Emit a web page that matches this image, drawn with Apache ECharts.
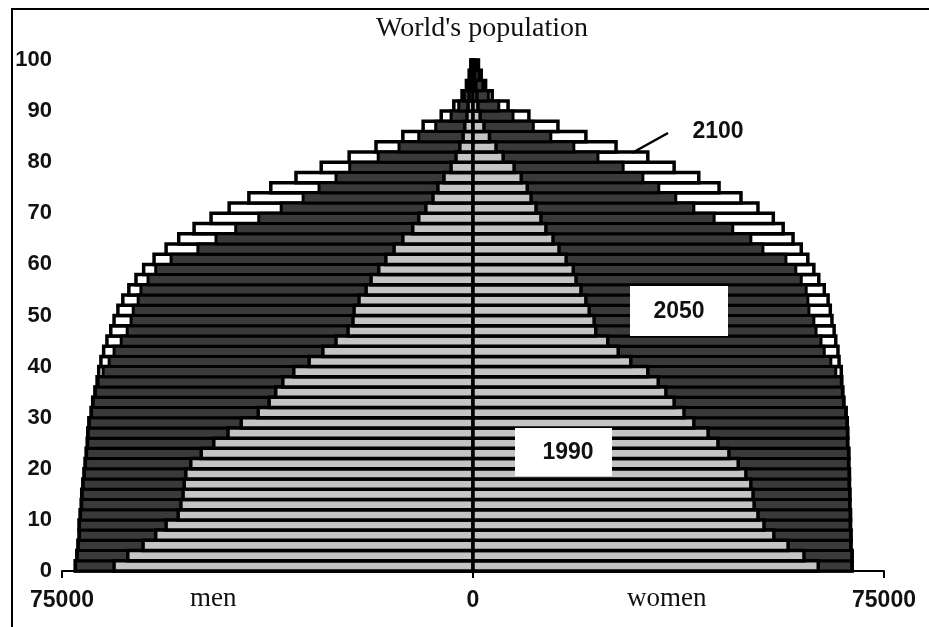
<!DOCTYPE html>
<html>
<head>
<meta charset="utf-8">
<script src="https://cdn.jsdelivr.net/npm/echarts@6/dist/echarts.min.js"></script>
<style>
  html, body { margin: 0; padding: 0; background: #fff; }
  #chart { width: 929px; height: 627px; }
</style>
</head>
<body>
<div id="chart"></div>
<script>
// age groups, 2 years each (start age of group)
var ages = [0, 2, 4, 6, 8, 10, 12, 14, 16, 18, 20, 22, 24, 26, 28, 30, 32, 34, 36, 38,
  40, 42, 44, 46, 48, 50, 52, 54, 56, 58, 60, 62, 64, 66, 68, 70, 72, 74, 76, 78,
  80, 82, 84, 86, 88, 90, 92, 94, 96, 98];

// men, thousands of people (drawn to the left)
var men2100 = [72600, 72300, 72100, 71900, 71900, 71700, 71500, 71400, 71200, 71000,
  70800, 70600, 70400, 70300, 70100, 69700, 69400, 69000, 68600, 68300,
  67900, 67400, 66800, 66100, 65500, 64800, 63900, 62800, 61500, 60100,
  58200, 56000, 53700, 50900, 47800, 44500, 40900, 36900, 32300, 27700,
  22600, 17700, 12800, 9100, 5800, 3500, 2000, 1200, 700, 400];
var men2050 = [72500, 72200, 72000, 71800, 71800, 71600, 71400, 71300, 71100, 70900,
  70700, 70500, 70300, 70200, 70000, 69600, 69300, 68900, 68400, 67500,
  66400, 65500, 64200, 63100, 62400, 62000, 61100, 60600, 59300, 57900,
  55100, 50200, 46900, 43300, 39100, 35000, 31000, 28100, 25000, 22500,
  17300, 13500, 9900, 6800, 4000, 2600, 1600, 1000, 600, 300];
var men1990 = [65500, 63000, 60200, 57900, 56000, 53800, 53300, 52900, 52700, 52400,
  51500, 49600, 47300, 44700, 42300, 39200, 37200, 36000, 34700, 32700,
  29900, 27400, 25000, 22800, 21900, 21700, 20800, 19500, 18600, 17200,
  15900, 14400, 12800, 11000, 9900, 8600, 7300, 6400, 5300, 4000,
  3100, 2400, 1800, 1500, 1100, 900, 700, 500, 400, 300];

// women (drawn to the right)
var women2100 = [69200, 69200, 69000, 69000, 68900, 68900, 68800, 68800, 68700, 68700,
  68600, 68600, 68400, 68400, 68300, 68100, 67700, 67500, 67300, 67200,
  66800, 66600, 66200, 65900, 65500, 65200, 64800, 64100, 63100, 62200,
  61100, 59900, 58400, 56600, 54800, 52000, 48900, 44900, 41200, 36700,
  31900, 26100, 20600, 15500, 10200, 6400, 3500, 2300, 1500, 1000];
var women2050 = [69100, 69100, 68900, 68900, 68800, 68800, 68700, 68700, 68600, 68600,
  68500, 68500, 68300, 68300, 68200, 68000, 67600, 67400, 67200, 66200,
  65300, 64100, 63500, 62600, 62200, 61300, 61100, 60800, 59900, 58900,
  57100, 52900, 50700, 47400, 44000, 40300, 37000, 33900, 31000, 27400,
  22800, 18400, 14200, 11000, 7300, 4700, 2800, 1800, 1100, 700];
var women1990 = [63000, 60400, 57500, 54900, 53100, 52000, 51300, 51100, 50700, 49800,
  48400, 46700, 44700, 42900, 40300, 38500, 36700, 35200, 33800, 31900,
  28800, 26500, 24600, 22400, 22100, 21200, 20600, 19700, 18800, 18300,
  17000, 15700, 14600, 13300, 12400, 11500, 10600, 9900, 8800, 7500,
  5500, 4200, 3000, 2000, 1300, 900, 700, 500, 300, 200];

var xTicks = [-75000, 0, 75000];
var yTicks = [0, 10, 20, 30, 40, 50, 60, 70, 80, 90, 100];

var chart = echarts.init(document.getElementById('chart'), null, { renderer: 'canvas' });

function layer(men, women) {
  var d = [];
  for (var i = 0; i < ages.length; i++) {
    d.push([ages[i], -men[i]]);
    d.push([ages[i], women[i]]);
  }
  return d;
}

function rowRenderer(fill, lw) {
  return function (params, api) {
    var age = api.value(0), v = api.value(1);
    var a = api.coord([0, age]);
    var b = api.coord([v, age + 2]);
    return {
      type: 'rect',
      shape: {
        x: Math.min(a[0], b[0]),
        y: b[1],
        width: Math.abs(b[0] - a[0]),
        height: a[1] - b[1]
      },
      style: { fill: fill, stroke: '#000', lineWidth: lw }
    };
  };
}

var digitFont = 'Liberation Sans';
var serifFont = 'Liberation Serif';

var option = {
  animation: false,
  backgroundColor: '#fff',
  grid: { left: 62, right: 45, top: 60, bottom: 56 },
  xAxis: {
    type: 'value',
    min: xTicks[0],
    max: xTicks[2],
    interval: 75000,
    axisLine: { show: true, lineStyle: { color: '#000', width: 2 } },
    axisTick: { show: true, length: 7, lineStyle: { color: '#000', width: 2 } },
    splitLine: { show: false },
    axisLabel: {
      margin: 18,
      color: '#111',
      fontFamily: digitFont,
      fontWeight: 'bold',
      fontSize: 23,
      formatter: function (v) { return String(Math.abs(v)); }
    }
  },
  yAxis: {
    type: 'value',
    min: yTicks[0],
    max: yTicks[yTicks.length - 1],
    interval: 10,
    axisLine: { show: false },
    axisTick: { show: false },
    splitLine: { show: false },
    axisLabel: { margin: 10, color: '#111', fontFamily: digitFont, fontWeight: 'bold', fontSize: 22 }
  },
  series: [
    {
      name: '2100', type: 'custom', z: 2,
      renderItem: rowRenderer('#ffffff', 3.5),
      data: layer(men2100, women2100)
    },
    {
      name: '2050', type: 'custom', z: 3,
      renderItem: rowRenderer('#3a3a3a', 3),
      data: layer(men2050, women2050)
    },
    {
      name: '1990', type: 'custom', z: 4,
      renderItem: rowRenderer('#c4c4c4', 3.5),
      data: layer(men1990, women1990),
      markLine: {
        silent: true,
        symbol: ['none', 'none'],
        label: { show: false },
        lineStyle: { color: '#000', width: 2, type: 'solid' },
        data: [[{ coord: [0, 0] }, { coord: [0, 101.5] }]]
      }
    }
  ],
  graphic: [
    { type: 'polyline', z: 10, shape: { points: [[12, 627], [12, 9], [929, 9]] },
      style: { stroke: '#000', lineWidth: 2, fill: null } },
    { type: 'text', z: 10, left: 376, top: 15,
      style: { text: "World's population", font: '28px "' + serifFont + '"', fill: '#111' } },
    { type: 'text', z: 10, left: 190, top: 585,
      style: { text: 'men', font: '27px "' + serifFont + '"', fill: '#111' } },
    { type: 'text', z: 10, left: 627, top: 585,
      style: { text: 'women', font: '27px "' + serifFont + '"', fill: '#111' } },
    { type: 'rect', z: 20, shape: { x: 515, y: 428, width: 97, height: 48 },
      style: { fill: '#fff' } },
    { type: 'text', z: 21, x: 568, y: 453,
      style: { text: '1990', font: 'bold 23px "' + digitFont + '"', fill: '#111', align: 'center', verticalAlign: 'middle' } },
    { type: 'rect', z: 20, shape: { x: 630, y: 286, width: 98, height: 50 },
      style: { fill: '#fff' } },
    { type: 'text', z: 21, x: 679, y: 312,
      style: { text: '2050', font: 'bold 23px "' + digitFont + '"', fill: '#111', align: 'center', verticalAlign: 'middle' } },
    { type: 'line', z: 21, shape: { x1: 668, y1: 133, x2: 632, y2: 153 },
      style: { stroke: '#000', lineWidth: 2.5 } },
    { type: 'text', z: 21, x: 718, y: 132,
      style: { text: '2100', font: 'bold 23px "' + digitFont + '"', fill: '#111', align: 'center', verticalAlign: 'middle' } }
  ]
};

chart.setOption(option);
</script>
</body>
</html>
